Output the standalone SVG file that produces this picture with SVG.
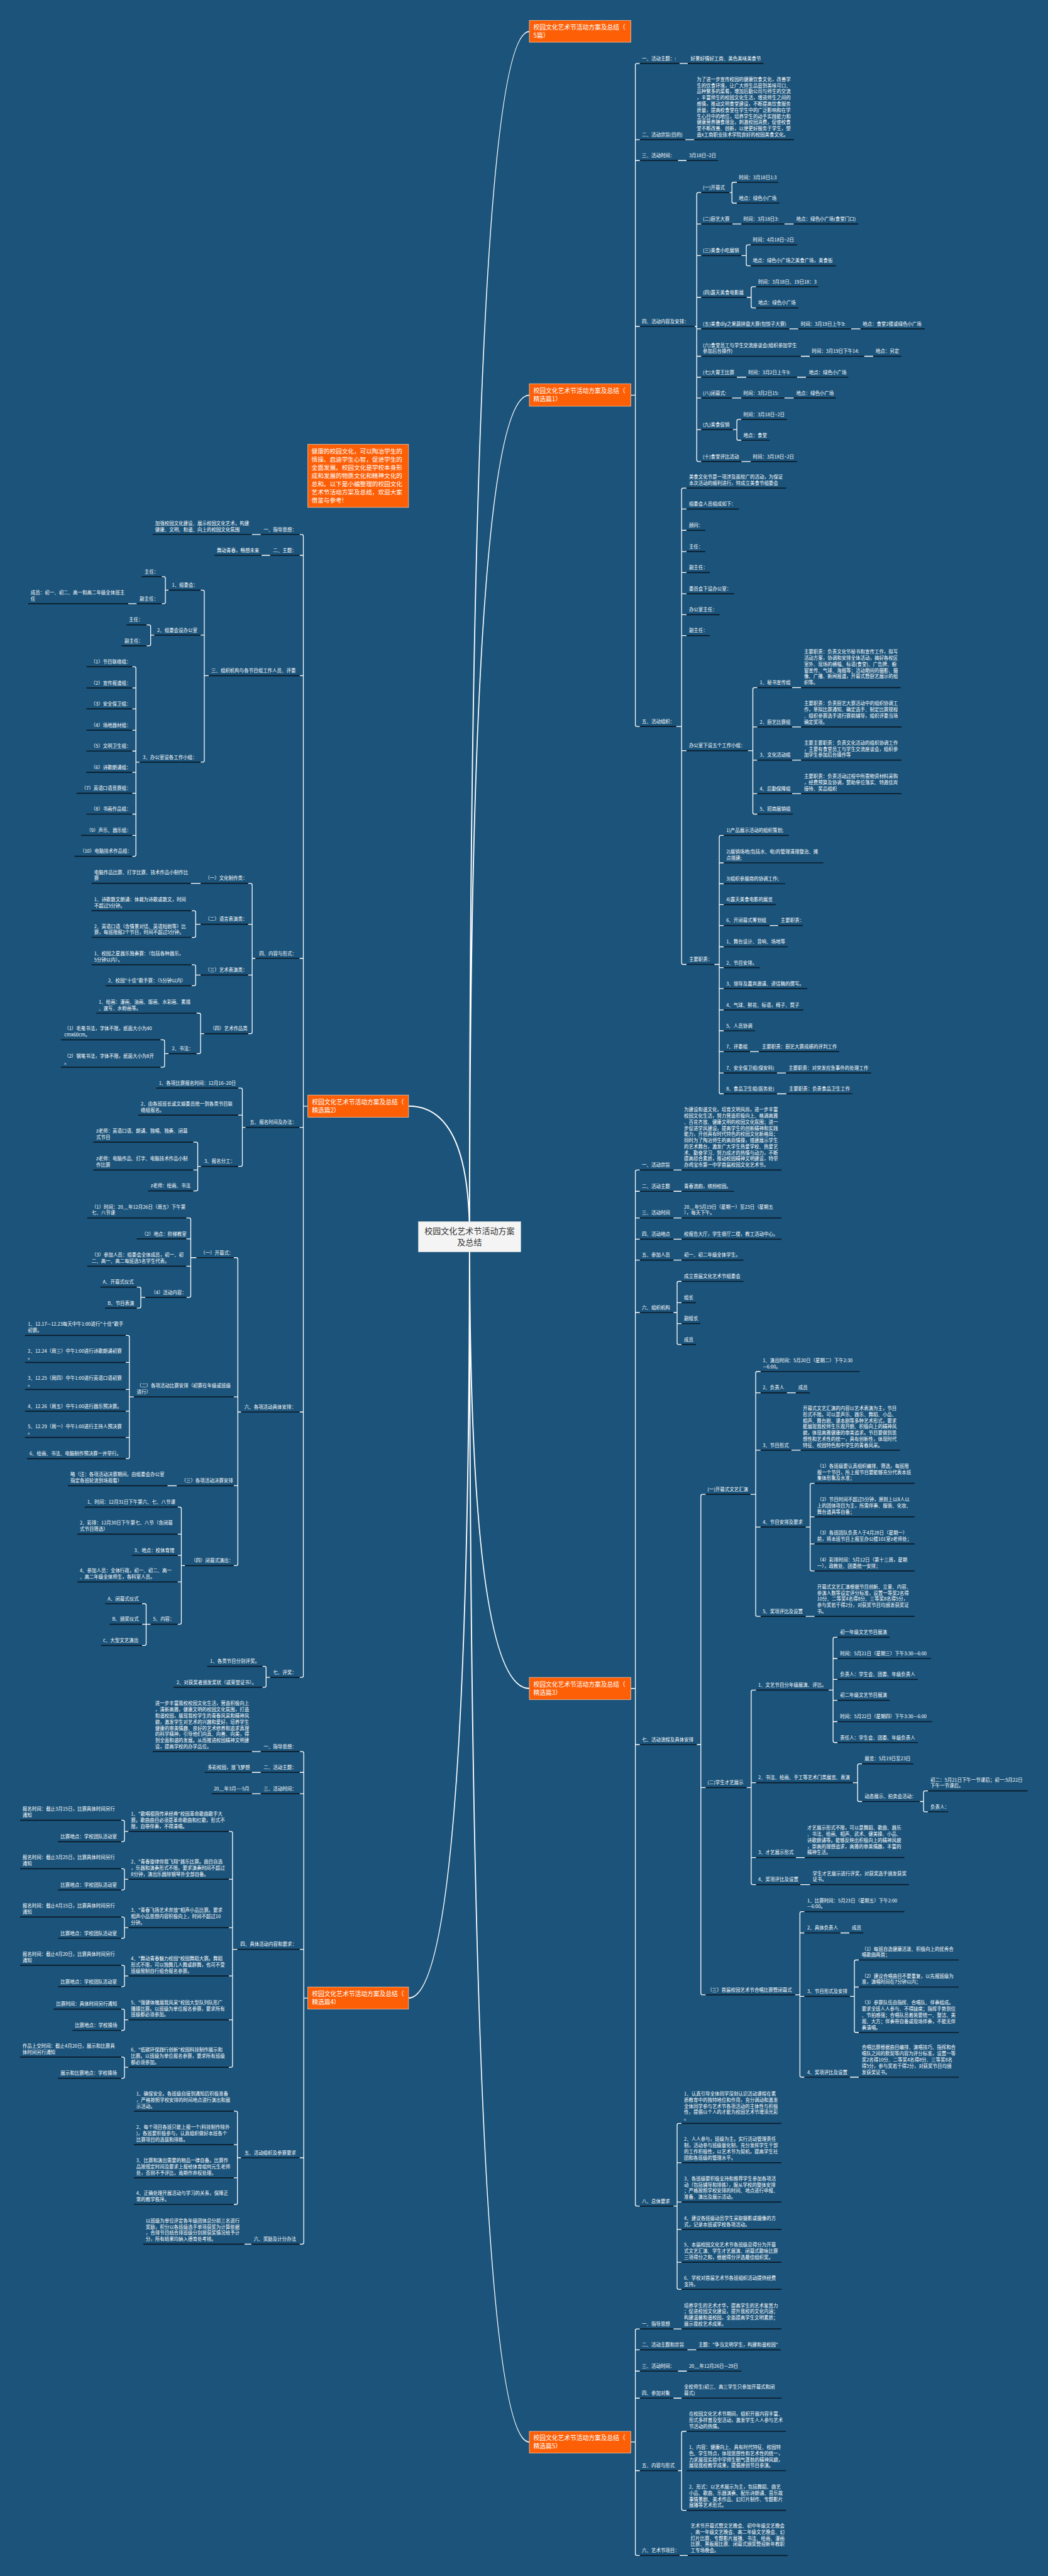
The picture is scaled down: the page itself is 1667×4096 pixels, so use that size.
<svg xmlns="http://www.w3.org/2000/svg" width="1667" height="4096" viewBox="0 0 1667 4096">
<style>
.t{font-family:"Noto Sans CJK SC","Noto Sans",sans-serif;font-size:11.5px;fill:#fff}
.ot{font-family:"Noto Sans CJK SC","Noto Sans",sans-serif;font-size:15px;fill:#fff}
.ct{font-family:"Noto Sans CJK SC","Noto Sans",sans-serif;font-size:20px;fill:#333;text-anchor:middle}
.u{stroke:#0b1b28;stroke-width:2.6;fill:none}
.c{fill:none;stroke:#fff;stroke-width:2}
.cv{fill:none;stroke:#fff;stroke-width:3}
.o{fill:#fd5f07;stroke:#f8c7a3;stroke-width:1.2}
</style>
<rect width="1667" height="4096" fill="#1b537a"/>
<g transform="scale(0.65117)">
<g id="connectors">
<path class="cv" d="M1147 3020Q1147 77 1293 77M1147 3020Q1147 965 1293 965M1147 3020Q1147 2701 998 2701M1147 3020Q1147 4123 1293 4123M1147 3020Q1147 4879 998 4879M1147 3020Q1147 5963 1293 5963"/>
<path class="c" d="M1541 965H1552M1563 155H1556Q1552 155 1552 159V1770Q1552 1774 1556 1774H1563M1552 341H1563M1552 392H1563M1552 797H1563"/>
<path class="c" d="M1660 155H1680M1674 341H1696M1656 392H1677"/>
<path class="c" d="M1697 797H1702M1713 470H1706Q1702 470 1702 474V1123Q1702 1127 1706 1127H1713M1702 547H1713M1702 624H1713M1702 726H1713M1702 803H1713M1702 870H1713M1702 921H1713M1702 972H1713M1702 1049H1713"/>
<path class="c" d="M1782 470H1788M1800 445H1792Q1788 445 1788 449V492Q1788 496 1792 496H1800"/>
<path class="c" d="M1789 547H1811M1916 547H1939"/>
<path class="c" d="M1811 624H1823M1834 598H1827Q1823 598 1823 602V645Q1823 649 1827 649H1834"/>
<path class="c" d="M1824 726H1835M1847 700H1839Q1835 700 1835 704V748Q1835 752 1839 752H1847"/>
<path class="c" d="M1928 803H1950M2079 803H2102M1956 870H1978M2111 870H2133M1800 921H1823M1947 921H1969M1788 972H1811M1916 972H1939"/>
<path class="c" d="M1790 1049H1800M1811 1024H1804Q1800 1024 1800 1028V1071Q1800 1075 1804 1075H1811M1811 1127H1834"/>
<path class="c" d="M1652 1774H1665M1677 1192H1669Q1665 1192 1665 1196V2351Q1665 2355 1669 2355H1677M1665 1243H1677M1665 1295H1677M1665 1347H1677M1665 1398H1677M1665 1450H1677M1665 1501H1677M1665 1552H1677M1665 1833H1677"/>
<path class="c" d="M1827 1833H1839M1850 1679H1843Q1839 1679 1839 1683V1984Q1839 1988 1843 1988H1850M1839 1775H1850M1839 1856H1850M1839 1938H1850"/>
<path class="c" d="M1935 1679H1957M1935 1775H1957M1935 1856H1957M1935 1938H1957"/>
<path class="c" d="M1745 2355H1757M1768 2040H1761Q1757 2040 1757 2044V2667Q1757 2671 1761 2671H1768M1757 2107H1768M1757 2158H1768M1757 2209H1768M1757 2260H1768M1757 2312H1768M1757 2363H1768M1757 2414H1768M1757 2466H1768M1757 2517H1768M1757 2568H1768M1757 2620H1768"/>
<path class="c" d="M1880 2260H1901M1832 2568H1854M1898 2620H1920M1898 2671H1921"/>
<path class="c" d="M1541 4123H1552M1563 2857H1556Q1552 2857 1552 2861V5383Q1552 5387 1556 5387H1563M1552 2909H1563M1552 2974H1563M1552 3026H1563M1552 3077H1563M1552 3205H1563M1552 4260H1563"/>
<path class="c" d="M1645 2857H1665M1645 2909H1665M1645 2974H1665M1645 3026H1665M1645 3077H1665"/>
<path class="c" d="M1645 3205H1654M1665 3129H1658Q1654 3129 1654 3133V3279Q1654 3283 1658 3283H1665M1654 3181H1665M1654 3232H1665"/>
<path class="c" d="M1702 4260H1712M1724 3649H1716Q1712 3649 1712 3653V4867Q1712 4871 1716 4871H1724M1712 4365H1724"/>
<path class="c" d="M1833 3649H1846M1858 3349H1850Q1846 3349 1846 3353V3943Q1846 3947 1850 3947H1858M1846 3401H1858M1846 3541H1858M1846 3729H1858"/>
<path class="c" d="M1922 3401H1944M1933 3541H1956M1968 3947H1990"/>
<path class="c" d="M1968 3729H1979M1990 3622H1983Q1979 3622 1979 3626V3832Q1979 3836 1983 3836H1990M1979 3704H1990M1979 3770H1990"/>
<path class="c" d="M1824 4365H1835M1847 4127H1839Q1835 4127 1835 4131V4598Q1835 4602 1839 4602H1847M1835 4353H1847M1835 4536H1847"/>
<path class="c" d="M2024 4127H2035M2046 3998H2039Q2035 3998 2035 4002V4251Q2035 4255 2039 4255H2046M2035 4050H2046M2035 4101H2046M2035 4152H2046M2035 4204H2046"/>
<path class="c" d="M2083 4353H2095M2106 4307H2099Q2095 4307 2095 4311V4395Q2095 4399 2099 4399H2106"/>
<path class="c" d="M2247 4399H2256M2267 4373H2260Q2256 4373 2256 4377V4420Q2256 4424 2260 4424H2267"/>
<path class="c" d="M1944 4536H1966M1955 4602H1979"/>
<path class="c" d="M1942 4871H1954M1965 4668H1958Q1954 4668 1954 4672V5068Q1954 5072 1958 5072H1965M1954 4720H1965M1954 4875H1965"/>
<path class="c" d="M2053 4720H2075M2076 5072H2098"/>
<path class="c" d="M2076 4875H2087M2098 4786H2091Q2087 4786 2087 4790V4959Q2087 4963 2091 4963H2098M2087 4852H2098"/>
<path class="c" d="M1645 5387H1654M1665 5185H1658Q1654 5185 1654 5189V5586Q1654 5590 1658 5590H1665M1654 5281H1665M1654 5377H1665M1654 5444H1665M1654 5524H1665"/>
<path class="c" d="M1541 5963H1552M1563 5687H1556Q1552 5687 1552 5691V6236Q1552 6240 1556 6240H1563M1552 5738H1563M1552 5790H1563M1552 5856H1563M1552 6033H1563"/>
<path class="c" d="M1645 5687H1665M1679 5738H1701M1656 5790H1678M1645 5856H1665M1660 6240H1680"/>
<path class="c" d="M1656 6033H1665M1677 5937H1669Q1665 5937 1665 5941V6126Q1665 6130 1669 6130H1677"/>
<path class="c" d="M752 2701H741M732 1305H737Q741 1305 741 1309V4092Q741 4096 737 4096H732M741 1356H732M741 1650H732M741 2340H732M741 2753H732M741 3448H732"/>
<path class="c" d="M637 1305H615M660 1356H639"/>
<path class="c" d="M510 1650H499M490 1441H495Q499 1441 499 1445V1857Q499 1861 495 1861H490M499 1551H490"/>
<path class="c" d="M412 1441H404M395 1408H400Q404 1408 404 1412V1470Q404 1474 400 1474H395M334 1474H313"/>
<path class="c" d="M377 1551H368M358 1526H364Q368 1526 368 1530V1573Q368 1577 364 1577H358"/>
<path class="c" d="M341 1861H332M323 1628H328Q332 1628 332 1632V2087Q332 2091 328 2091H323M332 1680H323M332 1731H323M332 1783H323M332 1834H323M332 1886H323M332 1937H323M332 1988H323M332 2040H323"/>
<path class="c" d="M624 2340H616M606 2157H612Q616 2157 616 2161V2520Q616 2524 612 2524H606M616 2257H606M616 2381H606"/>
<path class="c" d="M490 2157H466M490 2257H478M468 2224H474Q478 2224 478 2228V2285Q478 2289 474 2289H468M490 2381H478M468 2356H474Q478 2356 478 2360V2403Q478 2407 474 2407H468"/>
<path class="c" d="M499 2524H490M480 2474H486Q490 2474 490 2478V2569Q490 2573 486 2573H480M412 2573H402M392 2539H398Q402 2539 402 2543V2602Q402 2606 398 2606H392"/>
<path class="c" d="M600 2753H592M582 2657H588Q592 2657 592 2661V2844Q592 2848 588 2848H582M592 2723H582"/>
<path class="c" d="M491 2848H483M472 2789H479Q483 2789 483 2793V2904Q483 2908 479 2908H472M483 2857H472"/>
<path class="c" d="M589 3448H581M571 3071H577Q581 3071 581 3075V3819Q581 3823 577 3823H571M581 3411H571M581 3628H571"/>
<path class="c" d="M480 3071H466M455 2974H462Q466 2974 466 2978V3164Q466 3168 462 3168H455M466 3025H455M466 3092H455"/>
<path class="c" d="M355 3168H344M334 3143H340Q344 3143 344 3147V3190Q344 3194 340 3194H334"/>
<path class="c" d="M327 3411H316M307 3261H312Q316 3261 316 3265V3558Q316 3562 312 3562H307M316 3327H307M316 3393H307M316 3446H307M316 3510H307"/>
<path class="c" d="M432 3628H409"/>
<path class="c" d="M452 3823H443M434 3680H439Q443 3680 443 3684V3962Q443 3966 439 3966H434M443 3746H434M443 3798H434M443 3863H434"/>
<path class="c" d="M368 3966H357M347 3916H353Q357 3916 357 3920V4014Q357 4018 353 4018H347M357 3966H347"/>
<path class="c" d="M660 4096H650M641 4069H646Q650 4069 650 4073V4116Q650 4120 646 4120H641"/>
<path class="c" d="M752 4879H742M732 4277H738Q742 4277 742 4281V5476Q742 5480 738 5480H732M742 4328H732M742 4380H732M742 4760H732M742 5269H732"/>
<path class="c" d="M637 4277H615M637 4328H615M637 4380H615M614 5480H597"/>
<path class="c" d="M580 4760H568M559 4472H564Q568 4472 568 4476V5044Q568 5048 564 5048H559M568 4589H559M568 4707H559M568 4825H559M568 4932H559"/>
<path class="c" d="M314 4472H304M296 4445H300Q304 4445 304 4449V4493Q304 4497 300 4497H296M314 4589H304M296 4563H300Q304 4563 304 4567V4611Q304 4615 300 4615H296M314 4707H304M296 4681H300Q304 4681 304 4685V4729Q304 4733 300 4733H296M314 4825H304M296 4799H300Q304 4799 304 4803V4847Q304 4851 300 4851H296M314 4932H304M296 4906H300Q304 4906 304 4910V4954Q304 4958 300 4958H296M314 5048H304M296 5023H300Q304 5023 304 5027V5071Q304 5075 300 5075H296"/>
<path class="c" d="M589 5269H580M571 5155H576Q580 5155 580 5159V5379Q580 5383 576 5383H571M580 5237H571M580 5318H571"/>
</g>

<g id="center"><rect x="1022" y="2983" width="250" height="74" fill="#f4f4f4" stroke="#d8d8d8"/><text class="ct" x="1147" y="3013">校园文化艺术节活动方案</text><text class="ct" x="1147" y="3041">及总结</text></g>
<g id="main0"><rect class="o" x="1293" y="50" width="248" height="53"/><text class="ot" x="1303" y="72">校园文化艺术节活动方案及总结（<tspan x="1303" dy="20">5篇）</tspan></text></g>
<g id="main1"><rect class="o" x="1293" y="937" width="248" height="55"/><text class="ot" x="1303" y="960">校园文化艺术节活动方案及总结（<tspan x="1303" dy="20">精选篇1）</tspan></text></g>
<g id="main2"><rect class="o" x="752" y="2674" width="246" height="54"/><text class="ot" x="762" y="2697">校园文化艺术节活动方案及总结（<tspan x="762" dy="20">精选篇2）</tspan></text></g>
<g id="main3"><rect class="o" x="1293" y="4096" width="248" height="54"/><text class="ot" x="1303" y="4118">校园文化艺术节活动方案及总结（<tspan x="1303" dy="20">精选篇3）</tspan></text></g>
<g id="main4"><rect class="o" x="752" y="4852" width="246" height="54"/><text class="ot" x="762" y="4875">校园文化艺术节活动方案及总结（<tspan x="762" dy="20">精选篇4）</tspan></text></g>
<g id="main5"><rect class="o" x="1293" y="5937" width="248" height="53"/><text class="ot" x="1303" y="5959">校园文化艺术节活动方案及总结（<tspan x="1303" dy="20">精选篇5）</tspan></text></g>
<g id="summary"><rect class="o" x="752" y="1085" width="246" height="154"/><text class="ot" x="761" y="1107" style="font-size:14.8px">健康的校园文化，可以陶冶学生的<tspan x="761" dy="20">情操、启迪学生心智，促进学生的</tspan><tspan x="761" dy="20">全面发展。校园文化是学校本身形</tspan><tspan x="761" dy="20">成和发展的物质文化和精神文化的</tspan><tspan x="761" dy="20">总和。以下是小编整理的校园文化</tspan><tspan x="761" dy="20">艺术节活动方案及总结，欢迎大家</tspan><tspan x="761" dy="20">借鉴与参考!</tspan></text></g>

<g id="p1">
<g id="a1"><text class="t" x="1568" y="147">一、活动主题：:</text><path class="u" d="M1563 155H1660"/></g>
<g id="a1a"><text class="t" x="1687" y="147">好景好情好工商、美色美味美食节</text><path class="u" d="M1680 155H1865"/></g>
<g id="a2"><text class="t" x="1568" y="333">二、活动宗旨(目的)</text><path class="u" d="M1563 341H1674"/></g>
<g id="a2a"><text class="t" x="1702" y="198">为了进一步宣传校园的健康饮食文化，改善学<tspan x="1702" dy="15">生的饮食环境，让广大师生品尝到美味可口、</tspan><tspan x="1702" dy="15">品种繁多的菜肴，增加后勤公司与师生的交流</tspan><tspan x="1702" dy="15">，丰富师生的校园文化生活，增进师生之间的</tspan><tspan x="1702" dy="15">感情，推动文明食堂建设，不断提高饮食服务</tspan><tspan x="1702" dy="15">质量，提高校食堂在学生中的广泛影响和在学</tspan><tspan x="1702" dy="15">生心目中的地位，培养学生的动手实践能力和</tspan><tspan x="1702" dy="15">健康营养膳食理念，刺激校园消费，促使校食</tspan><tspan x="1702" dy="15">堂不断改善、创新，以便更好服务于学生，塑</tspan><tspan x="1702" dy="15">造x工商职业技术学院良好的校园美食文化。</tspan></text><path class="u" d="M1696 341H1939"/></g>
<g id="a3"><text class="t" x="1568" y="384">三、活动时间：</text><path class="u" d="M1563 392H1656"/></g>
<g id="a3a"><text class="t" x="1683" y="384">3月18日~2日</text><path class="u" d="M1677 392H1754"/></g>
<g id="a4"><text class="t" x="1568" y="789">四、活动内容及安排：</text><path class="u" d="M1563 797H1697"/></g>
<g id="b1"><text class="t" x="1717" y="462">(一)开幕式</text><path class="u" d="M1713 470H1782"/></g>
<g id="b1a"><text class="t" x="1805" y="437">时间：3月18日1:3</text><path class="u" d="M1800 445H1901"/></g>
<g id="b1b"><text class="t" x="1805" y="488">地点：绿色小广场</text><path class="u" d="M1800 496H1904"/></g>
<g id="b2"><text class="t" x="1717" y="539">(二)厨艺大赛</text><path class="u" d="M1713 547H1789"/></g>
<g id="b2a"><text class="t" x="1816" y="539">时间：3月18日3:</text><path class="u" d="M1811 547H1916"/></g>
<g id="b2b"><text class="t" x="1945" y="539">地点：绿色小广场(食堂门口)</text><path class="u" d="M1939 547H2096"/></g>
<g id="b3"><text class="t" x="1717" y="616">(三)美食小吃展销</text><path class="u" d="M1713 624H1811"/></g>
<g id="b3a"><text class="t" x="1839" y="590">时间：4月18日~2日</text><path class="u" d="M1834 598H1947"/></g>
<g id="b3b"><text class="t" x="1839" y="641">地点：绿色小广场之美食广场，美食街</text><path class="u" d="M1834 649H2042"/></g>
<g id="b4"><text class="t" x="1717" y="718">(四)露天美食电影展</text><path class="u" d="M1713 726H1824"/></g>
<g id="b4a"><text class="t" x="1852" y="692">时间：3月18日、19日18：3</text><path class="u" d="M1847 700H1999"/></g>
<g id="b4b"><text class="t" x="1852" y="744">地点：绿色小广场</text><path class="u" d="M1847 752H1950"/></g>
<g id="b5"><text class="t" x="1717" y="795">(五)美食diy之果蔬拼盘大赛(包饺子大赛)</text><path class="u" d="M1713 803H1928"/></g>
<g id="b5a"><text class="t" x="1956" y="795">时间：3月19日上午9:</text><path class="u" d="M1950 803H2079"/></g>
<g id="b5b"><text class="t" x="2107" y="795">地点：食堂2楼或绿色小广场</text><path class="u" d="M2102 803H2259"/></g>
<g id="b6"><text class="t" x="1717" y="847">(六)食堂员工与学生交流座谈会(组织参加学生<tspan x="1717" dy="15">参加后台操作)</tspan></text><path class="u" d="M1713 870H1956"/></g>
<g id="b6a"><text class="t" x="1983" y="862">时间：3月19日下午14:</text><path class="u" d="M1978 870H2111"/></g>
<g id="b6b"><text class="t" x="2139" y="862">地点：另定</text><path class="u" d="M2133 870H2202"/></g>
<g id="b7"><text class="t" x="1717" y="913">(七)大胃王比赛</text><path class="u" d="M1713 921H1800"/></g>
<g id="b7a"><text class="t" x="1828" y="913">时间：3月2日上午9:</text><path class="u" d="M1823 921H1947"/></g>
<g id="b7b"><text class="t" x="1976" y="913">地点：绿色小广场</text><path class="u" d="M1969 921H2072"/></g>
<g id="b8"><text class="t" x="1717" y="964">(八)闭幕式:</text><path class="u" d="M1713 972H1788"/></g>
<g id="b8a"><text class="t" x="1816" y="964">时间：3月2日15:</text><path class="u" d="M1811 972H1916"/></g>
<g id="b8b"><text class="t" x="1945" y="964">地点：绿色小广场</text><path class="u" d="M1939 972H2042"/></g>
<g id="b9"><text class="t" x="1717" y="1041">(九)美食促销</text><path class="u" d="M1713 1049H1790"/></g>
<g id="b9a"><text class="t" x="1816" y="1016">时间：3月18日~2日</text><path class="u" d="M1811 1024H1922"/></g>
<g id="b9b"><text class="t" x="1816" y="1067">地点：食堂</text><path class="u" d="M1811 1075H1880"/></g>
<g id="b10"><text class="t" x="1717" y="1119">(十)食堂评比活动</text><path class="u" d="M1713 1127H1811"/></g>
<g id="b10a"><text class="t" x="1839" y="1119">时间：3月18日~2日</text><path class="u" d="M1834 1127H1947"/></g>
<g id="a5"><text class="t" x="1568" y="1766">五、活动组织：</text><path class="u" d="M1563 1774H1652"/></g>
<g id="c1"><text class="t" x="1683" y="1169">美食文化节是一项涉及面较广的活动，为保证<tspan x="1683" dy="15">本次活动的顺利进行，特成立美食节组委会</tspan></text><path class="u" d="M1677 1192H1920"/></g>
<g id="c2"><text class="t" x="1683" y="1235">组委会人员组成如下：</text><path class="u" d="M1677 1243H1805"/></g>
<g id="c3"><text class="t" x="1683" y="1287">顾问：</text><path class="u" d="M1677 1295H1723"/></g>
<g id="c4"><text class="t" x="1683" y="1339">主任：</text><path class="u" d="M1677 1347H1723"/></g>
<g id="c5"><text class="t" x="1683" y="1390">副主任：</text><path class="u" d="M1677 1398H1734"/></g>
<g id="c6"><text class="t" x="1683" y="1442">委员会下设办公室：</text><path class="u" d="M1677 1450H1793"/></g>
<g id="c7"><text class="t" x="1683" y="1493">办公室主任：</text><path class="u" d="M1677 1501H1758"/></g>
<g id="c8"><text class="t" x="1683" y="1544">副主任：</text><path class="u" d="M1677 1552H1734"/></g>
<g id="c9"><text class="t" x="1683" y="1825">办公室下设五个工作小组：</text><path class="u" d="M1677 1833H1827"/></g>
<g id="d1"><text class="t" x="1856" y="1671">1、秘书宣传组</text><path class="u" d="M1850 1679H1935"/></g>
<g id="d1a"><text class="t" x="1964" y="1596">主要职责：负责文化节秘书和宣传工作，拟写<tspan x="1964" dy="15">活动方案，协调和安排全体活动，搞好各校区</tspan><tspan x="1964" dy="15">室外、现场的横幅、标语(食堂)、广告牌、橱</tspan><tspan x="1964" dy="15">窗宣传、气球、海报等；活动期间的摄影、摄</tspan><tspan x="1964" dy="15">像、广播、新闻报道，开幕式暨厨艺展示的组</tspan><tspan x="1964" dy="15">织等。</tspan></text><path class="u" d="M1957 1679H2200"/></g>
<g id="d2"><text class="t" x="1856" y="1767">2、厨艺比赛组</text><path class="u" d="M1850 1775H1935"/></g>
<g id="d2a"><text class="t" x="1964" y="1722">主要职责：负责厨艺大赛活动中的组织协调工<tspan x="1964" dy="15">作，草拟比赛通知、确定选手、制定比赛规程</tspan><tspan x="1964" dy="15">、组织参赛选手进行赛前辅导，组织评委当场</tspan><tspan x="1964" dy="15">确定奖项。</tspan></text><path class="u" d="M1957 1775H2202"/></g>
<g id="d3"><text class="t" x="1856" y="1848">3、文化活动组</text><path class="u" d="M1850 1856H1935"/></g>
<g id="d3a"><text class="t" x="1964" y="1818">主要主要职责：负责文化活动的组织协调工作<tspan x="1964" dy="15">，主要有食堂员工与学生交流座谈会，组织参</tspan><tspan x="1964" dy="15">加学生参加后台操作等</tspan></text><path class="u" d="M1957 1856H2202"/></g>
<g id="d4"><text class="t" x="1856" y="1930">4、后勤保障组</text><path class="u" d="M1850 1938H1935"/></g>
<g id="d4a"><text class="t" x="1964" y="1900">主要职责：负责活动过程中所需物资材料采购<tspan x="1964" dy="15">，经费预算及协调，赞助单位落实、特邀佳宾</tspan><tspan x="1964" dy="15">接待、奖品组织</tspan></text><path class="u" d="M1957 1938H2202"/></g>
<g id="d5"><text class="t" x="1856" y="1980">5、招商展销组</text><path class="u" d="M1850 1988H1937"/></g>
<g id="c10"><text class="t" x="1683" y="2347">主要职责：</text><path class="u" d="M1677 2355H1745"/></g>
<g id="e1"><text class="t" x="1774" y="2032">1)产品展示活动的组织策划;</text><path class="u" d="M1768 2040H1927"/></g>
<g id="e2"><text class="t" x="1774" y="2084">2)展销场地(包括水、电)的管理清理整治、摊<tspan x="1774" dy="15">点搭建;</tspan></text><path class="u" d="M1768 2107H2011"/></g>
<g id="e3"><text class="t" x="1774" y="2150">3)组织参展商的协调工作;</text><path class="u" d="M1768 2158H1918"/></g>
<g id="e4"><text class="t" x="1774" y="2201">4)露天美食电影的展览</text><path class="u" d="M1768 2209H1895"/></g>
<g id="e5"><text class="t" x="1774" y="2252">6、开闭幕式筹划组</text><path class="u" d="M1768 2260H1880"/></g>
<g id="e5a"><text class="t" x="1907" y="2252">主要职责：</text><path class="u" d="M1901 2260H1961"/></g>
<g id="e6"><text class="t" x="1774" y="2304">1、舞台设计、音响、场地等</text><path class="u" d="M1768 2312H1924"/></g>
<g id="e7"><text class="t" x="1774" y="2355">2、节目安排。</text><path class="u" d="M1768 2363H1856"/></g>
<g id="e8"><text class="t" x="1774" y="2406">3、领导及嘉宾邀请、讲话稿的撰写。</text><path class="u" d="M1768 2414H1972"/></g>
<g id="e9"><text class="t" x="1774" y="2458">4、气球、鲜花、标语，椅子、凳子</text><path class="u" d="M1768 2466H1962"/></g>
<g id="e10"><text class="t" x="1774" y="2509">5、人员协调</text><path class="u" d="M1768 2517H1844"/></g>
<g id="e11"><text class="t" x="1774" y="2560">7、评委组</text><path class="u" d="M1768 2568H1832"/></g>
<g id="e11a"><text class="t" x="1861" y="2560">主要职责：厨艺大赛成绩的评判工作</text><path class="u" d="M1854 2568H2050"/></g>
<g id="e12"><text class="t" x="1774" y="2612">7、安全保卫组(保安科)</text><path class="u" d="M1768 2620H1898"/></g>
<g id="e12a"><text class="t" x="1926" y="2612">主要职责：对突发应急事件的处理工作</text><path class="u" d="M1920 2620H2128"/></g>
<g id="e13"><text class="t" x="1774" y="2663">8、食品卫生组(医务处)</text><path class="u" d="M1768 2671H1898"/></g>
<g id="e13a"><text class="t" x="1927" y="2663">主要职责：负责食品卫生工作</text><path class="u" d="M1921 2671H2082"/></g>
</g>

<g id="p3">
<g id="f1"><text class="t" x="1568" y="2849">一、活动宗旨</text><path class="u" d="M1563 2857H1645"/></g>
<g id="f1a"><text class="t" x="1671" y="2714">为建设和谐文化，培育文明风尚，进一步丰富<tspan x="1671" dy="15">校园文化生活，努力营造积极向上、格调高雅</tspan><tspan x="1671" dy="15">、百花齐放、健康文明的校园文化氛围；进一</tspan><tspan x="1671" dy="15">步促进学风建设，提高学生的创新精神和实践</tspan><tspan x="1671" dy="15">能力，开创具有时代特色的校园文化新格局；</tspan><tspan x="1671" dy="15">同时为了陶冶师生的高尚情操，搭建展示学生</tspan><tspan x="1671" dy="15">的艺术舞台，激发广大学生热爱学校、热爱艺</tspan><tspan x="1671" dy="15">术、勤奋学习、努力成才的热情与动力，不断</tspan><tspan x="1671" dy="15">提高综合素质，推动校园精神文明建设，特举</tspan><tspan x="1671" dy="15">办鸡宝市第一中学首届校园文化艺术节。</tspan></text><path class="u" d="M1665 2857H1909"/></g>
<g id="f2"><text class="t" x="1568" y="2901">二、活动主题</text><path class="u" d="M1563 2909H1645"/></g>
<g id="f2a"><text class="t" x="1671" y="2901">青春流韵，缤纷校园。</text><path class="u" d="M1665 2909H1793"/></g>
<g id="f3"><text class="t" x="1568" y="2966">三、活动时间</text><path class="u" d="M1563 2974H1645"/></g>
<g id="f3a"><text class="t" x="1671" y="2951">20__年5月19日（星期一）至23日（星期五<tspan x="1671" dy="15">），每天下午。</tspan></text><path class="u" d="M1665 2974H1909"/></g>
<g id="f4"><text class="t" x="1568" y="3018">四、活动地点</text><path class="u" d="M1563 3026H1645"/></g>
<g id="f4a"><text class="t" x="1671" y="3018">校报告大厅，学生餐厅二楼，教工活动中心。</text><path class="u" d="M1665 3026H1909"/></g>
<g id="f5"><text class="t" x="1568" y="3069">五、参加人员</text><path class="u" d="M1563 3077H1645"/></g>
<g id="f5a"><text class="t" x="1671" y="3069">初一、初二年级全体学生。</text><path class="u" d="M1665 3077H1816"/></g>
<g id="f6"><text class="t" x="1568" y="3197">六、组织机构</text><path class="u" d="M1563 3205H1645"/></g>
<g id="f6a"><text class="t" x="1671" y="3121">成立首届文化艺术节组委会</text><path class="u" d="M1665 3129H1816"/></g>
<g id="f6b"><text class="t" x="1671" y="3173">组长</text><path class="u" d="M1665 3181H1700"/></g>
<g id="f6c"><text class="t" x="1671" y="3224">副组长</text><path class="u" d="M1665 3232H1711"/></g>
<g id="f6d"><text class="t" x="1671" y="3275">成员</text><path class="u" d="M1665 3283H1700"/></g>
<g id="f7"><text class="t" x="1568" y="4252">七、活动流程及具体安排</text><path class="u" d="M1563 4260H1702"/></g>
<g id="g1"><text class="t" x="1728" y="3641">(一)开幕式文艺汇演</text><path class="u" d="M1724 3649H1833"/></g>
<g id="h1"><text class="t" x="1863" y="3326">1、演出时间：5月20日（星期二）下午2:30<tspan x="1863" dy="15">—6:00。</tspan></text><path class="u" d="M1858 3349H2100"/></g>
<g id="h2"><text class="t" x="1863" y="3393">2、负责人</text><path class="u" d="M1858 3401H1922"/></g>
<g id="h2a"><text class="t" x="1950" y="3393">成员</text><path class="u" d="M1944 3401H1978"/></g>
<g id="h3"><text class="t" x="1863" y="3533">3、节目形式</text><path class="u" d="M1858 3541H1933"/></g>
<g id="h3a"><text class="t" x="1961" y="3443">开幕式文艺汇演的内容以艺术表演为主，节目<tspan x="1961" dy="15">形式不限。可以是声乐、器乐、舞蹈、小品、</tspan><tspan x="1961" dy="15">相声、舞台剧、课本剧等多种艺术形式，要求</tspan><tspan x="1961" dy="15">能展现我校师生乐观开朗、积极向上的精神风</tspan><tspan x="1961" dy="15">貌，体现高雅健康的审美追求。节目要做到思</tspan><tspan x="1961" dy="15">想性和艺术性的统一，具有创新性，体现时代</tspan><tspan x="1961" dy="15">特征、校园特色和中学生的青春风采。</tspan></text><path class="u" d="M1956 3541H2198"/></g>
<g id="h4"><text class="t" x="1863" y="3721">4、节目安排及要求</text><path class="u" d="M1858 3729H1968"/></g>
<g id="h4a"><text class="t" x="1996" y="3584">（1）各班级要认真组织编排、筛选，每班限<tspan x="1996" dy="15">报一个节目，所上报节目要能够充分代表本班</tspan><tspan x="1996" dy="15">集体形象及水准；</tspan></text><path class="u" d="M1990 3622H2234"/></g>
<g id="h4b"><text class="t" x="1996" y="3666">（2）节目时间不超过5分钟，原则上以8人以<tspan x="1996" dy="15">上的团体项目为主，所需伴奏、服装、化妆、</tspan><tspan x="1996" dy="15">舞台道具等自备；</tspan></text><path class="u" d="M1990 3704H2234"/></g>
<g id="h4c"><text class="t" x="1996" y="3747">（3）各班团队负责人于4月28日（星期一）<tspan x="1996" dy="15">前，将本班节目上报至办公楼101室z老师处；</tspan></text><path class="u" d="M1990 3770H2234"/></g>
<g id="h4d"><text class="t" x="1996" y="3813">（4）彩排时间：5月12日（第十三周，星期<tspan x="1996" dy="15">一），政教处、团委统一安排；</tspan></text><path class="u" d="M1990 3836H2234"/></g>
<g id="h5"><text class="t" x="1863" y="3939">5、奖项评比及设置</text><path class="u" d="M1858 3947H1968"/></g>
<g id="h5a"><text class="t" x="1996" y="3879">开幕式文艺汇演根据节目创新、立意、内容、<tspan x="1996" dy="15">参演人数等设定评分标准，设置一等奖2名得</tspan><tspan x="1996" dy="15">10分、二等奖4名得8分、三等奖8名得5分，</tspan><tspan x="1996" dy="15">参与奖若干得2分，对获奖节目均颁发获奖证</tspan><tspan x="1996" dy="15">书。</tspan></text><path class="u" d="M1990 3947H2234"/></g>
<g id="g2"><text class="t" x="1728" y="4357">(二)学生才艺展示</text><path class="u" d="M1724 4365H1824"/></g>
<g id="i1"><text class="t" x="1852" y="4119">1、文艺节目分年级展演、评比。</text><path class="u" d="M1847 4127H2024"/></g>
<g id="i1a"><text class="t" x="2052" y="3990">初一年级文艺节目展演</text><path class="u" d="M2046 3998H2173"/></g>
<g id="i1b"><text class="t" x="2052" y="4042">时间：5月21日（星期三）下午3:30—6:00</text><path class="u" d="M2046 4050H2274"/></g>
<g id="i1c"><text class="t" x="2052" y="4093">负责人：学生会、团委、年级负责人</text><path class="u" d="M2046 4101H2242"/></g>
<g id="i1d"><text class="t" x="2052" y="4144">初二年级文艺节目展演</text><path class="u" d="M2046 4152H2173"/></g>
<g id="i1e"><text class="t" x="2052" y="4196">时间：5月22日（星期四）下午3:30—6:00</text><path class="u" d="M2046 4204H2277"/></g>
<g id="i1f"><text class="t" x="2052" y="4247">责任人：学生会、团委、年级负责人</text><path class="u" d="M2046 4255H2242"/></g>
<g id="i2"><text class="t" x="1852" y="4345">2、书法、绘画、手工等艺术门类展览、表演</text><path class="u" d="M1847 4353H2083"/></g>
<g id="i2a"><text class="t" x="2112" y="4299">展览：5月19日至23日</text><path class="u" d="M2106 4307H2231"/></g>
<g id="i2b"><text class="t" x="2112" y="4391">动态展示、拍卖会活动：</text><path class="u" d="M2106 4399H2247"/></g>
<g id="i2b1"><text class="t" x="2273" y="4350">初二：5月21日下午一节课后；初一:5月22日<tspan x="2273" dy="15">下午一节课后。</tspan></text><path class="u" d="M2267 4373H2510"/></g>
<g id="i2b2"><text class="t" x="2273" y="4416">负责人：</text><path class="u" d="M2267 4424H2316"/></g>
<g id="i3"><text class="t" x="1852" y="4528">3、才艺展示形式</text><path class="u" d="M1847 4536H1944"/></g>
<g id="i3a"><text class="t" x="1972" y="4468">才艺展示形式不限，可以是舞蹈、歌曲、器乐<tspan x="1972" dy="15">、书法、绘画、相声、武术、健美操、小品、</tspan><tspan x="1972" dy="15">诗歌朗诵等。能够反映出积极向上的精神风貌</tspan><tspan x="1972" dy="15">，崇高的理想追求，高雅的审美情趣，丰富的</tspan><tspan x="1972" dy="15">精神生活。</tspan></text><path class="u" d="M1966 4536H2209"/></g>
<g id="i4"><text class="t" x="1852" y="4594">4、奖项评比及设置</text><path class="u" d="M1847 4602H1955"/></g>
<g id="i4a"><text class="t" x="1985" y="4579">学生才艺展示进行评奖，对获奖选手颁发获奖<tspan x="1985" dy="15">证书。</tspan></text><path class="u" d="M1979 4602H2220"/></g>
<g id="g3"><text class="t" x="1728" y="4863">（三）首届校园艺术节合唱比赛暨闭幕式</text><path class="u" d="M1724 4871H1942"/></g>
<g id="g3a"><text class="t" x="1972" y="4645">1、比赛时间：5月23日（星期五）下午2:00<tspan x="1972" dy="15">—6:00。</tspan></text><path class="u" d="M1965 4668H2209"/></g>
<g id="g3b"><text class="t" x="1972" y="4712">2、具体负责人</text><path class="u" d="M1965 4720H2053"/></g>
<g id="g3b1"><text class="t" x="2081" y="4712">成员</text><path class="u" d="M2075 4720H2109"/></g>
<g id="g3c"><text class="t" x="1972" y="4867">3、节目形式及安排</text><path class="u" d="M1965 4875H2076"/></g>
<g id="g3c1"><text class="t" x="2105" y="4763">（1）每班自选健康活泼、积极向上的优秀合<tspan x="2105" dy="15">唱歌曲两首；</tspan></text><path class="u" d="M2098 4786H2342"/></g>
<g id="g3c2"><text class="t" x="2105" y="4829">（2）建议合唱曲目不要重复，以先报班级为<tspan x="2105" dy="15">准，演唱时间在7分钟以内；</tspan></text><path class="u" d="M2098 4852H2342"/></g>
<g id="g3c3"><text class="t" x="2105" y="4895">（3）参赛队伍由指挥、合唱队、伴奏组成。<tspan x="2105" dy="15">要求全班人人参与、不得缺席；指挥手势到位</tspan><tspan x="2105" dy="15">、节拍感强；合唱队员着装要统一、整洁、美</tspan><tspan x="2105" dy="15">观、大方；伴奏带自备或现场伴奏，不能无伴</tspan><tspan x="2105" dy="15">奏清唱。</tspan></text><path class="u" d="M2098 4963H2342"/></g>
<g id="g3d"><text class="t" x="1972" y="5064">4、奖项评比及设置</text><path class="u" d="M1965 5072H2076"/></g>
<g id="g3d1"><text class="t" x="2105" y="5004">合唱比赛根据曲目编排、演唱技巧、指挥和合<tspan x="2105" dy="15">唱队之间的默契等内容为评分标准，设置一等</tspan><tspan x="2105" dy="15">奖2名得10分、二等奖4名得8分、三等奖8名</tspan><tspan x="2105" dy="15">得5分，参与奖若干得2分，对获奖节目均颁</tspan><tspan x="2105" dy="15">发获奖证书。</tspan></text><path class="u" d="M2098 5072H2342"/></g>
<g id="f8"><text class="t" x="1568" y="5379">八、总体要求</text><path class="u" d="M1563 5387H1645"/></g>
<g id="f8a"><text class="t" x="1671" y="5117">1、认真引导全体同学深刻认识活动课程在素<tspan x="1671" dy="15">质教育中的独特地位和作用，充分调动和激发</tspan><tspan x="1671" dy="15">全体同学参与艺术节各项活动的主体性与积极</tspan><tspan x="1671" dy="15">性，提倡以个人的才能为校园艺术节增添光彩</tspan><tspan x="1671" dy="15">。</tspan></text><path class="u" d="M1665 5185H1909"/></g>
<g id="f8b"><text class="t" x="1671" y="5228">2、人人参与，班级为主。实行活动管理责任<tspan x="1671" dy="15">制，活动参与班级量化制，充分发挥学生干部</tspan><tspan x="1671" dy="15">的工作积极性，以艺术节为契机，提高学生社</tspan><tspan x="1671" dy="15">团和各班级的管理水平。</tspan></text><path class="u" d="M1665 5281H1909"/></g>
<g id="f8c"><text class="t" x="1671" y="5324">3、各班级要积极支持和推荐学生参加各项活<tspan x="1671" dy="15">动（包括辅导和排练），服从学校的整体安排</tspan><tspan x="1671" dy="15">；严格按照学校安排的时间、地点进行申报、</tspan><tspan x="1671" dy="15">准备、演出及展示活动。</tspan></text><path class="u" d="M1665 5377H1909"/></g>
<g id="f8d"><text class="t" x="1671" y="5421">4、建议各班级动员学生采取摄影或摄像的方<tspan x="1671" dy="15">式，记录本班或学校各项活动。</tspan></text><path class="u" d="M1665 5444H1909"/></g>
<g id="f8e"><text class="t" x="1671" y="5486">5、本届校园文化艺术节各班级总得分为开幕<tspan x="1671" dy="15">式文艺汇演、学生才艺展演、闭幕式歌咏比赛</tspan><tspan x="1671" dy="15">三项得分之和，根据得分评选最佳组织奖。</tspan></text><path class="u" d="M1665 5524H1909"/></g>
<g id="f8f"><text class="t" x="1671" y="5567">6、学校对首届艺术节各班组织活动提供经费<tspan x="1671" dy="15">支持。</tspan></text><path class="u" d="M1665 5590H1909"/></g>
</g>

<g id="p5">
<g id="j1"><text class="t" x="1568" y="5679">一、指导思想</text><path class="u" d="M1563 5687H1645"/></g>
<g id="j1a"><text class="t" x="1671" y="5634">培养学生的艺术才华，提高学生的艺术鉴赏力<tspan x="1671" dy="15">；促进校园文化建设，提升我校的文化内涵；</tspan><tspan x="1671" dy="15">构建温馨和谐校园，全面提高学生文明素质；</tspan><tspan x="1671" dy="15">展示我校艺术成果。</tspan></text><path class="u" d="M1665 5687H1909"/></g>
<g id="j2"><text class="t" x="1568" y="5730">二、活动主题和宗旨</text><path class="u" d="M1563 5738H1679"/></g>
<g id="j2a"><text class="t" x="1706" y="5730">主题："争当文明学生，构建和谐校园"</text><path class="u" d="M1701 5738H1907"/></g>
<g id="j3"><text class="t" x="1568" y="5782">三、活动时间：</text><path class="u" d="M1563 5790H1656"/></g>
<g id="j3a"><text class="t" x="1683" y="5782">20__年12月26日—29日</text><path class="u" d="M1678 5790H1811"/></g>
<g id="j4"><text class="t" x="1568" y="5848">四、参加对象</text><path class="u" d="M1563 5856H1645"/></g>
<g id="j4a"><text class="t" x="1671" y="5833">全校师生(初三、高三学生只参加开幕式和闭<tspan x="1671" dy="15">幕式)</tspan></text><path class="u" d="M1665 5856H1909"/></g>
<g id="j5"><text class="t" x="1568" y="6025">五、内容与形式</text><path class="u" d="M1563 6033H1656"/></g>
<g id="j5a"><text class="t" x="1683" y="5899">在校园文化艺术节期间，组织开展内容丰富、<tspan x="1683" dy="15">形式多样普及型活动，激发学生人人参与艺术</tspan><tspan x="1683" dy="15">节活动的热情。</tspan></text><path class="u" d="M1677 5937H1920"/></g>
<g id="j5b"><text class="t" x="1683" y="5980">1、内容：健康向上、具有时代特征、校园特<tspan x="1683" dy="15">色、学生特点，体现思想性和艺术性的统一，</tspan><tspan x="1683" dy="15">力求展现实验中学师生朝气蓬勃的精神风貌，</tspan><tspan x="1683" dy="15">展现我校教学成果，提倡原创节目参演。</tspan></text><path class="u" d="M1677 6033H1920"/></g>
<g id="j5c"><text class="t" x="1683" y="6077">2、形式：以艺术展示为主，包括舞蹈、曲艺<tspan x="1683" dy="15">小品、歌曲、乐器演奏、配乐诗朗诵、音乐故</tspan><tspan x="1683" dy="15">事情景剧、美术作品、幻灯片制作、专题影片</tspan><tspan x="1683" dy="15">展播等艺术形式。</tspan></text><path class="u" d="M1677 6130H1920"/></g>
<g id="j6"><text class="t" x="1568" y="6232">六、艺术节项目：</text><path class="u" d="M1563 6240H1660"/></g>
<g id="j6a"><text class="t" x="1687" y="6172">艺术节开幕式暨文艺晚会、初中年级文艺晚会<tspan x="1687" dy="15">、高一年级文艺晚会、高二年级文艺晚会、幻</tspan><tspan x="1687" dy="15">灯片比赛、专题影片展播、书法、绘画、漫画</tspan><tspan x="1687" dy="15">比赛、黑板报比赛、闭幕式颁奖暨迎新年教职</tspan><tspan x="1687" dy="15">工专场晚会。</tspan></text><path class="u" d="M1680 6240H1924"/></g>
</g>

<g id="p2">
<g id="k1"><text class="t" x="644" y="1297">一、指导思想：</text><path class="u" d="M637 1305H732"/></g>
<g id="k1a"><text class="t" x="379" y="1282">加强校园文化建设、展示校园文化艺术，构建<tspan x="379" dy="15">健康、文明、和谐、向上的校园文化氛围</tspan></text><path class="u" d="M373 1305H615"/></g>
<g id="k2"><text class="t" x="667" y="1348">二、主题：</text><path class="u" d="M660 1356H732"/></g>
<g id="k2a"><text class="t" x="530" y="1348">舞动青春，畅想未来</text><path class="u" d="M524 1356H639"/></g>
<g id="k3"><text class="t" x="516" y="1642">三、组织机构与各节目组工作人员、评委</text><path class="u" d="M510 1650H732"/></g>
<g id="k3a"><text class="t" x="420" y="1433">1、组委会：</text><path class="u" d="M412 1441H490"/></g>
<g id="k3a1"><text class="t" x="353" y="1400">主任：</text><path class="u" d="M346 1408H395"/></g>
<g id="k3a2"><text class="t" x="341" y="1466">副主任：</text><path class="u" d="M334 1474H395"/></g>
<g id="k3a2a"><text class="t" x="75" y="1451">成员：初一、初二、高一和高二年级全体班主<tspan x="75" dy="15">任</tspan></text><path class="u" d="M69 1474H313"/></g>
<g id="k3b"><text class="t" x="384" y="1543">2、组委会设办公室</text><path class="u" d="M377 1551H490"/></g>
<g id="k3b1"><text class="t" x="315" y="1518">主任：</text><path class="u" d="M309 1526H358"/></g>
<g id="k3b2"><text class="t" x="304" y="1569">副主任：</text><path class="u" d="M297 1577H358"/></g>
<g id="k3c"><text class="t" x="349" y="1853">3、办公室设各工作小组：</text><path class="u" d="M341 1861H490"/></g>
<g id="k3c1"><text class="t" x="222" y="1620">（1）节目联络组：</text><path class="u" d="M211 1628H323"/></g>
<g id="k3c2"><text class="t" x="222" y="1672">（2）宣传报道组：</text><path class="u" d="M211 1680H323"/></g>
<g id="k3c3"><text class="t" x="222" y="1723">（3）安全保卫组：</text><path class="u" d="M211 1731H323"/></g>
<g id="k3c4"><text class="t" x="222" y="1775">（4）场地器材组：</text><path class="u" d="M211 1783H323"/></g>
<g id="k3c5"><text class="t" x="222" y="1826">（5）文明卫生组：</text><path class="u" d="M211 1834H323"/></g>
<g id="k3c6"><text class="t" x="222" y="1878">（6）诗歌朗诵组：</text><path class="u" d="M211 1886H323"/></g>
<g id="k3c7"><text class="t" x="199" y="1929">（7）英语口语竞赛组：</text><path class="u" d="M187 1937H323"/></g>
<g id="k3c8"><text class="t" x="222" y="1980">（8）书画作品组：</text><path class="u" d="M211 1988H323"/></g>
<g id="k3c9"><text class="t" x="211" y="2032">（9）声乐、器乐组：</text><path class="u" d="M198 2040H323"/></g>
<g id="k3c10"><text class="t" x="195" y="2083">（10）电脑技术作品组：</text><path class="u" d="M182 2091H323"/></g>
<g id="k4"><text class="t" x="633" y="2332">四、内容与形式：</text><path class="u" d="M624 2340H731"/></g>
<g id="k4a"><text class="t" x="501" y="2149">（一）文化制作类：</text><path class="u" d="M490 2157H606"/></g>
<g id="k4a1"><text class="t" x="230" y="2134">电脑作品比赛、打字比赛、技术作品小制作比<tspan x="230" dy="15">赛</tspan></text><path class="u" d="M224 2157H466"/></g>
<g id="k4b"><text class="t" x="501" y="2249">（二）语言表演类：</text><path class="u" d="M490 2257H606"/></g>
<g id="k4b1"><text class="t" x="230" y="2201">1、诗歌散文朗诵：体裁为诗歌或散文，时间<tspan x="230" dy="15">不超过5分钟。</tspan></text><path class="u" d="M224 2224H468"/></g>
<g id="k4b2"><text class="t" x="230" y="2266">2、英语口语（含情景对话、英语短剧等）比<tspan x="230" dy="15">赛，每班限报2个节目，时间不超过5分钟。</tspan></text><path class="u" d="M224 2289H468"/></g>
<g id="k4c"><text class="t" x="501" y="2373">（三）艺术表演类：</text><path class="u" d="M490 2381H606"/></g>
<g id="k4c1"><text class="t" x="230" y="2333">1、校园之星器乐独奏赛：（包括各种器乐，<tspan x="230" dy="15">5分钟以内）。</tspan></text><path class="u" d="M224 2356H468"/></g>
<g id="k4c2"><text class="t" x="264" y="2399">2、校园"十佳"歌手赛：（5分钟以内）</text><path class="u" d="M258 2407H468"/></g>
<g id="k4d"><text class="t" x="513" y="2516">（四）艺术作品类</text><path class="u" d="M499 2524H606"/></g>
<g id="k4d1"><text class="t" x="241" y="2451">1、绘画：漫画、油画、版画、水彩画、素描<tspan x="241" dy="15">、速写、水粉画等。</tspan></text><path class="u" d="M235 2474H480"/></g>
<g id="k4d2"><text class="t" x="420" y="2565">2、书法：</text><path class="u" d="M412 2573H480"/></g>
<g id="k4d2a"><text class="t" x="157" y="2516">（1）毛笔书法，字体不限，纸面大小为40<tspan x="157" dy="15">cmx60cm。</tspan></text><path class="u" d="M149 2539H392"/></g>
<g id="k4d2b"><text class="t" x="157" y="2583">（2）钢笔书法，字体不限，纸面大小为8开<tspan x="157" dy="15">。</tspan></text><path class="u" d="M149 2606H392"/></g>
<g id="k5"><text class="t" x="610" y="2745">五、报名时间及办法：</text><path class="u" d="M600 2753H731"/></g>
<g id="k5a"><text class="t" x="388" y="2649">1、各项比赛报名时间：12月16–20日</text><path class="u" d="M382 2657H582"/></g>
<g id="k5b"><text class="t" x="344" y="2700">2、由各班班长或文娱委员统一到各类节目联<tspan x="344" dy="15">络组报名。</tspan></text><path class="u" d="M338 2723H582"/></g>
<g id="k5c"><text class="t" x="499" y="2840">3、报名分工：</text><path class="u" d="M491 2848H582"/></g>
<g id="k5c1"><text class="t" x="235" y="2766">z老师：英语口语、朗诵、独唱、独奏、闭幕<tspan x="235" dy="15">式节目</tspan></text><path class="u" d="M228 2789H472"/></g>
<g id="k5c2"><text class="t" x="235" y="2834">z老师：电脑作品、打字、电脑技术作品小制<tspan x="235" dy="15">作比赛</tspan></text><path class="u" d="M228 2857H472"/></g>
<g id="k5c3"><text class="t" x="368" y="2900">z老师：绘画、书法</text><path class="u" d="M362 2908H472"/></g>
<g id="k6"><text class="t" x="597" y="3440">六、各项活动具体安排：</text><path class="u" d="M589 3448H732"/></g>
<g id="k6a"><text class="t" x="490" y="3063">（一）开幕式：</text><path class="u" d="M480 3071H571"/></g>
<g id="k6a1"><text class="t" x="224" y="2951">（1）时间：20__年12月26日（周五）下午第<tspan x="224" dy="15">七、八节课</tspan></text><path class="u" d="M213 2974H455"/></g>
<g id="k6a2"><text class="t" x="346" y="3017">（2）地点：阶梯教室</text><path class="u" d="M334 3025H455"/></g>
<g id="k6a3"><text class="t" x="224" y="3069">（3）参加人员：组委会全体成员，初一、初<tspan x="224" dy="15">二、高一、高二每班选5名学生代表。</tspan></text><path class="u" d="M213 3092H455"/></g>
<g id="k6a4"><text class="t" x="369" y="3160">（4）活动内容：</text><path class="u" d="M355 3168H456"/></g>
<g id="k6a4a"><text class="t" x="251" y="3135">A、开幕式仪式</text><path class="u" d="M245 3143H334"/></g>
<g id="k6a4b"><text class="t" x="263" y="3186">B、节目表演</text><path class="u" d="M257 3194H334"/></g>
<g id="k6b"><text class="t" x="334" y="3388">（二）各项活动比赛安排（初赛在年级或班级<tspan x="334" dy="15">进行）</tspan></text><path class="u" d="M327 3411H571"/></g>
<g id="k6b1"><text class="t" x="68" y="3238">1、12.17—12.23每天中午1:00进行"十佳"歌手<tspan x="68" dy="15">初赛。</tspan></text><path class="u" d="M61 3261H307"/></g>
<g id="k6b2"><text class="t" x="68" y="3304">2、12.24（周三）中午1:00进行诗歌朗诵初赛<tspan x="68" dy="15">。</tspan></text><path class="u" d="M61 3327H307"/></g>
<g id="k6b3"><text class="t" x="68" y="3370">3、12.25（周四）中午1:00进行英语口语初赛<tspan x="68" dy="15">。</tspan></text><path class="u" d="M61 3393H307"/></g>
<g id="k6b4"><text class="t" x="68" y="3438">4、12.26（周五）中午1:00进行器乐预决赛。</text><path class="u" d="M61 3446H307"/></g>
<g id="k6b5"><text class="t" x="68" y="3487">5、12.29（周一）中午1:00进行主持人预决赛<tspan x="68" dy="15">。</tspan></text><path class="u" d="M61 3510H307"/></g>
<g id="k6b6"><text class="t" x="72" y="3554">6、绘画、书法、电脑制作预决赛一并举行。</text><path class="u" d="M66 3562H307"/></g>
<g id="k6c"><text class="t" x="443" y="3620">（三）各项活动决赛安排</text><path class="u" d="M432 3628H571"/></g>
<g id="k6c1"><text class="t" x="172" y="3605">略（注：各项活动决赛期间，由组委会办公室<tspan x="172" dy="15">指定各班轮流到场观看）</tspan></text><path class="u" d="M166 3628H409"/></g>
<g id="k6d"><text class="t" x="467" y="3815">（四）闭幕式演出：</text><path class="u" d="M452 3823H571"/></g>
<g id="k6d1"><text class="t" x="213" y="3672">1、时间：12月31日下午第六、七、八节课</text><path class="u" d="M207 3680H434"/></g>
<g id="k6d2"><text class="t" x="195" y="3723">2、彩排：12月30日下午第七、八节（含闭幕<tspan x="195" dy="15">式节目筛选）</tspan></text><path class="u" d="M189 3746H434"/></g>
<g id="k6d3"><text class="t" x="328" y="3790">3、地点：校体育馆</text><path class="u" d="M322 3798H434"/></g>
<g id="k6d4"><text class="t" x="195" y="3840">4、参加人员：全体行政，初一、初二、高一<tspan x="195" dy="15">、高二年级全体师生，各科室人员。</tspan></text><path class="u" d="M189 3863H434"/></g>
<g id="k6d5"><text class="t" x="374" y="3958">5、内容：</text><path class="u" d="M368 3966H434"/></g>
<g id="k6d5a"><text class="t" x="263" y="3908">A、闭幕式仪式</text><path class="u" d="M257 3916H347"/></g>
<g id="k6d5b"><text class="t" x="274" y="3958">B、颁奖仪式</text><path class="u" d="M268 3966H347"/></g>
<g id="k6d5c"><text class="t" x="252" y="4010">c、大型文艺演出</text><path class="u" d="M247 4018H347"/></g>
<g id="k7"><text class="t" x="667" y="4088">七、评奖：</text><path class="u" d="M660 4096H732"/></g>
<g id="k7a"><text class="t" x="513" y="4061">1、各类节目分别评奖。</text><path class="u" d="M506 4069H641"/></g>
<g id="k7b"><text class="t" x="431" y="4112">2、对获奖者颁发奖状（或荣誉证书）。</text><path class="u" d="M424 4120H641"/></g>
</g>

<g id="p4">
<g id="m1"><text class="t" x="644" y="4269">一、指导思想：</text><path class="u" d="M637 4277H732"/></g>
<g id="m1a"><text class="t" x="379" y="4164">进一步丰富我校校园文化生活，营造积极向上<tspan x="379" dy="15">，清新高雅，健康文明的校园文化氛围，打造</tspan><tspan x="379" dy="15">和谐校园，展现我校学生的青春风采和精神风</tspan><tspan x="379" dy="15">貌，激发学生对艺术的兴趣和爱好，培养学生</tspan><tspan x="379" dy="15">健康的审美情趣、良好的艺术修养和追求真理</tspan><tspan x="379" dy="15">的科学精神，引导他们向真、向善、向美，得</tspan><tspan x="379" dy="15">到全面和谐的发展。从而推进校园精神文明建</tspan><tspan x="379" dy="15">设，提高学校的办学品位。</tspan></text><path class="u" d="M373 4277H615"/></g>
<g id="m2"><text class="t" x="644" y="4320">二、活动主题：</text><path class="u" d="M637 4328H732"/></g>
<g id="m2a"><text class="t" x="507" y="4320">多彩校园，放飞梦想</text><path class="u" d="M500 4328H615"/></g>
<g id="m3"><text class="t" x="644" y="4372">三、活动时间：</text><path class="u" d="M637 4380H732"/></g>
<g id="m3a"><text class="t" x="522" y="4372">20__年3月—-5月</text><path class="u" d="M517 4380H615"/></g>
<g id="m4"><text class="t" x="587" y="4752">四、具体活动内容和要求：</text><path class="u" d="M580 4760H732"/></g>
<g id="n1"><text class="t" x="320" y="4434">1、"歌唱祖国传承经典"校园革命歌曲歌手大<tspan x="320" dy="15">赛。歌曲曲目必须是革命歌曲和红歌，形式不</tspan><tspan x="320" dy="15">限，自带伴奏，不得清唱。</tspan></text><path class="u" d="M314 4472H559"/></g>
<g id="n1a"><text class="t" x="55" y="4422">报名时间：截止3月15日，比赛具体时间另行<tspan x="55" dy="15">通知</tspan></text><path class="u" d="M49 4445H296"/></g>
<g id="n1b"><text class="t" x="148" y="4489">比赛地点：学校团队活动室</text><path class="u" d="M142 4497H296"/></g>
<g id="n2"><text class="t" x="320" y="4551">2、"青春旋律你我飞翔"器乐比赛。曲目自选<tspan x="320" dy="15">，乐器和演奏形式不限。要求演奏时间不超过</tspan><tspan x="320" dy="15">8分钟，演出乐器除钢琴外全部自备。</tspan></text><path class="u" d="M314 4589H559"/></g>
<g id="n2a"><text class="t" x="55" y="4540">报名时间：截止3月25日，比赛具体时间另行<tspan x="55" dy="15">通知</tspan></text><path class="u" d="M49 4563H296"/></g>
<g id="n2b"><text class="t" x="148" y="4607">比赛地点：学校团队活动室</text><path class="u" d="M142 4615H296"/></g>
<g id="n3"><text class="t" x="320" y="4669">3、"青春飞扬艺术奔放"相声小品比赛。要求<tspan x="320" dy="15">相声小品思想内容积极向上，时间不超过10</tspan><tspan x="320" dy="15">分钟。</tspan></text><path class="u" d="M314 4707H559"/></g>
<g id="n3a"><text class="t" x="55" y="4658">报名时间：截止4月15日，比赛具体时间另行<tspan x="55" dy="15">通知</tspan></text><path class="u" d="M49 4681H296"/></g>
<g id="n3b"><text class="t" x="148" y="4725">比赛地点：学校团队活动室</text><path class="u" d="M142 4733H296"/></g>
<g id="n4"><text class="t" x="320" y="4787">4、"舞动青春魅力校园"校园舞蹈大赛。舞蹈<tspan x="320" dy="15">形式不限，可以独舞几人舞或群舞，也可不受</tspan><tspan x="320" dy="15">班级限制自行组合报名参赛。</tspan></text><path class="u" d="M314 4825H559"/></g>
<g id="n4a"><text class="t" x="55" y="4776">报名时间：截止4月20日，比赛具体时间另行<tspan x="55" dy="15">通知</tspan></text><path class="u" d="M49 4799H296"/></g>
<g id="n4b"><text class="t" x="148" y="4843">比赛地点：学校团队活动室</text><path class="u" d="M142 4851H296"/></g>
<g id="n5"><text class="t" x="320" y="4894">5、"强健体魄展我风采"校园大型队列队形广<tspan x="320" dy="15">播操比赛。以班级为单位报名参赛，要求所有</tspan><tspan x="320" dy="15">班级都必须参加。</tspan></text><path class="u" d="M314 4932H559"/></g>
<g id="n5a"><text class="t" x="137" y="4898">比赛时间：具体时间另行通知</text><path class="u" d="M131 4906H296"/></g>
<g id="n5b"><text class="t" x="183" y="4950">比赛地点：学校操场</text><path class="u" d="M177 4958H296"/></g>
<g id="n6"><text class="t" x="320" y="5010">6、"低碳环保践行创新"校园科技制作展示和<tspan x="320" dy="15">比赛。以班级为单位报名参赛，要求所有班级</tspan><tspan x="320" dy="15">都必须参加。</tspan></text><path class="u" d="M314 5048H559"/></g>
<g id="n6a"><text class="t" x="55" y="5000">作品上交时间：截止4月20日，展示和比赛具<tspan x="55" dy="15">体时间另行通知</tspan></text><path class="u" d="M49 5023H296"/></g>
<g id="n6b"><text class="t" x="148" y="5067">展示和比赛地点：学校操场</text><path class="u" d="M142 5075H296"/></g>
<g id="m5"><text class="t" x="597" y="5261">五、活动组织及参赛要求</text><path class="u" d="M589 5269H732"/></g>
<g id="m5a"><text class="t" x="333" y="5117">1、确保安全。各班级自接到通知后积极准备<tspan x="333" dy="15">，严格按照学校安排的时间地点进行演出和展</tspan><tspan x="333" dy="15">示活动。</tspan></text><path class="u" d="M327 5155H571"/></g>
<g id="m5b"><text class="t" x="333" y="5199">2、每个项目各班只能上报一个(科技制作除外<tspan x="333" dy="15">)，各班要积极参与，认真组织做好本班各个</tspan><tspan x="333" dy="15">比赛项目的选拔和排练。</tspan></text><path class="u" d="M327 5237H571"/></g>
<g id="m5c"><text class="t" x="333" y="5280">3、比赛和演出需要的物品一律自备。比赛作<tspan x="333" dy="15">品按规定时间及要求上报给体育组何元生老师</tspan><tspan x="333" dy="15">处，否则不予评比，逾期作弃权处理。</tspan></text><path class="u" d="M327 5318H571"/></g>
<g id="m5d"><text class="t" x="333" y="5360">4、正确处理开展活动与学习的关系，保障正<tspan x="333" dy="15">常的教学秩序。</tspan></text><path class="u" d="M327 5383H571"/></g>
<g id="m6"><text class="t" x="620" y="5472">六、奖励及计分办法</text><path class="u" d="M614 5480H732"/></g>
<g id="m6a"><text class="t" x="356" y="5427">以班级为单位评定各年级团体总分前三名进行<tspan x="356" dy="15">奖励，积分以各班级选手单项获奖为计算依据</tspan><tspan x="356" dy="15">，合排节目结合排班级分别按获奖情况给予计</tspan><tspan x="356" dy="15">分，所有结果均纳入德育处考核。</tspan></text><path class="u" d="M350 5480H597"/></g>
</g>
</g>
</svg>
